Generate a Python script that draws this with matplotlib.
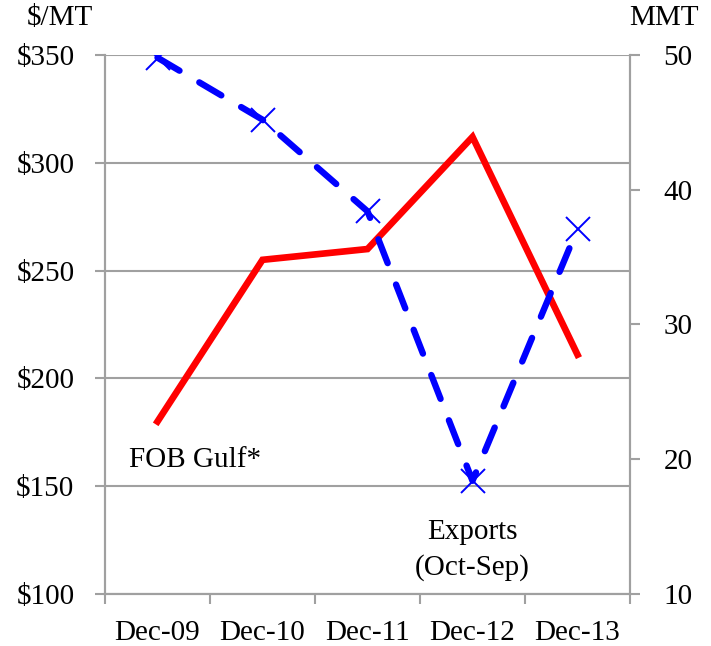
import numpy as np
import matplotlib
matplotlib.use("Agg")
import matplotlib.pyplot as plt

plt.rcParams['font.family'] = ['Liberation Serif', 'DejaVu Serif']

# data
periods = ["Dec-09", "Dec-10", "Dec-11", "Dec-12", "Dec-13"]
fob_gulf = [180, 255, 260, 312, 211]          # $/MT, left axis
exports = [49.8, 45.2, 38.4, 18.4, 37.1]      # MMT, right axis

left_ticks = [100, 150, 200, 250, 300, 350]
right_ticks = [10, 20, 30, 40, 50]

GRID = "#a0a0a0"
FS = 21

fig = plt.figure(figsize=(7.11, 6.46), dpi=100)
ax = fig.add_axes([105 / 711, 1 - 594 / 646, 525 / 711, 539 / 646])
ax2 = ax.twinx()

x = np.arange(len(periods))

ax.plot(x, fob_gulf, color="#ff0000", lw=4.8, solid_joinstyle="miter", zorder=3)
ax2.plot(x, exports, color="#0000ff", lw=4.6, dashes=(4, 3.6),
         dash_capstyle="round", marker="x", markersize=17, markeredgewidth=1.4,
         zorder=3)

ax.set_xlim(-0.5, len(periods) - 0.5)
ax.set_ylim(100, 350)
ax2.set_ylim(10, 50)

ax.set_yticks(left_ticks)
ax.set_yticklabels([f"${v}" for v in left_ticks])
ax2.set_yticks(right_ticks)

ax.set_xticks(x)
ax.set_xticklabels(periods)
ax.set_xticks(np.arange(-0.5, len(periods)), minor=True)
ax.tick_params(axis="x", which="major", length=0, pad=19, labelsize=FS)
ax.tick_params(axis="x", which="minor", length=7, width=1.5, color=GRID, direction="out")
ax.tick_params(axis="y", length=7, width=1.5, color=GRID, labelsize=FS, pad=15)
ax2.tick_params(axis="y", length=7, width=1.5, color=GRID, labelsize=FS, pad=17)

ax.grid(axis="y", color=GRID, lw=1.5)
ax.set_axisbelow(True)

for a in (ax, ax2):
    a.spines["top"].set_visible(False)
    for s in ("left", "right", "bottom"):
        a.spines[s].set_color(GRID)
        a.spines[s].set_linewidth(1.5)

fig.text(60 / 711, 1 - 18 / 646, "$/MT", ha="center", va="center", fontsize=FS)
fig.text(664 / 711, 1 - 18 / 646, "MMT", ha="center", va="center", fontsize=FS)

ax.text(0.36, 162, "FOB Gulf*", ha="center", va="center", fontsize=FS)
ax.text(3, 120.5, "Exports\n(Oct-Sep)", ha="center", va="center", fontsize=FS,
        linespacing=1.45)

fig.savefig("out.png", dpi=100)
